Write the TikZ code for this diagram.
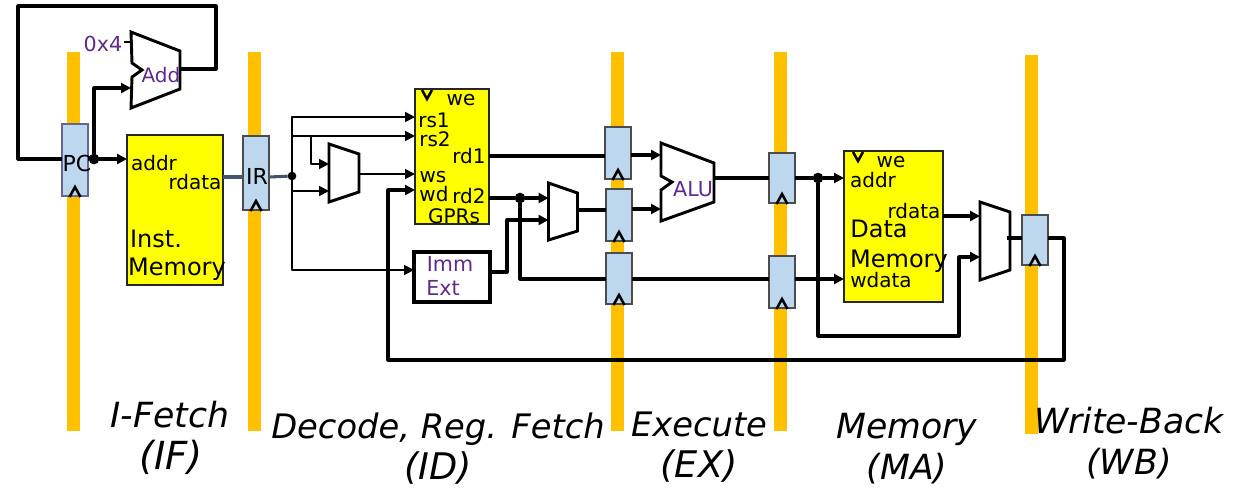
\documentclass[tikz,border=0pt]{standalone}
\usepackage{fontspec}
\setmainfont{DejaVu Sans}
\usetikzlibrary{arrows.meta,calc}
\definecolor{barc}{RGB}{255,192,0}
\definecolor{regc}{RGB}{189,215,238}
\definecolor{purp}{RGB}{95,42,140}
\definecolor{irw}{RGB}{68,84,106}
\definecolor{memy}{RGB}{255,255,0}
\tikzset{
  pipebar/.style={fill=barc,draw=none,inner sep=0pt,outer sep=0pt,minimum width=9.75pt},
  reg/.style={fill=regc,draw=black!70,line width=1.1pt,inner sep=0pt,outer sep=0pt,minimum width=19.5pt},
  memblock/.style={fill=memy,draw=black!85,line width=2.1pt,inner sep=0pt,outer sep=0pt},
  immblock/.style={fill=white,draw=black,line width=2.3pt,inner sep=0pt,outer sep=0pt},
  muxbox/.style={inner sep=0pt,outer sep=0pt,draw=none},
  muxline/.style={draw=black,fill=white,line width=2.2pt,line join=miter},
  heavywire/.style={draw=black,line width=2.3pt,line join=round},
  lightwire/.style={draw=black,line width=1.4pt,line join=round},
  tipped/.style={-{Triangle[length=7.5pt,width=7.5pt]}},
  dot/.style={circle,fill=black,inner sep=0pt,outer sep=0pt,minimum size=#1},
  dot/.default=8pt,
  chev/.style={draw=black,line width=1.9pt,line join=miter},
  port/.style={anchor=base,inner sep=0pt,outer sep=0pt,font=\fontsize{15}{15}\selectfont,text=black},
  big/.style={anchor=base,inner sep=0pt,outer sep=0pt,font=\fontsize{18}{18}\selectfont,text=black},
  ppl/.style={anchor=base,inner sep=0pt,outer sep=0pt,font=\fontsize{15.5}{15}\selectfont,text=purp},
  stage/.style={anchor=base,inner sep=0pt,outer sep=0pt,font=\fontsize{26}{26}\selectfont\itshape,text=black},
  stagesm/.style={stage,font=\fontsize{25.3}{26}\selectfont\itshape},
  stagelg/.style={stage,font=\fontsize{27.5}{28}\selectfont\itshape},
}
\newcommand{\clkmark}[1]{\draw[chev] ($(#1.south)+(-5.5,1)$) -- ++(5.5,-10) -- ++(5.5,10);}
\begin{document}
\begin{tikzpicture}[x=0.75pt,y=-0.75pt]
\useasboundingbox (0,0) rectangle (1256,487);
% pipeline bars
\node[pipebar,minimum height=284.25pt] (barA) at (73.5,241.5) {};
\node[pipebar,minimum height=284.25pt] (barB) at (254.5,241.5) {};
\node[pipebar,minimum height=284.25pt] (barC) at (617.5,241.5) {};
\node[pipebar,minimum height=284.25pt] (barD) at (780.5,241.5) {};
\node[pipebar,minimum height=284.25pt] (barE) at (1031.5,244.5) {};
% boxes
\node[reg,draw=blue!30!black!60,minimum height=54pt] (pc) at (75,160) {};
\node[reg,minimum height=55.5pt] (ir) at (256,173) {};
\node[reg,minimum height=39pt] (exa) at (618,153) {};
\node[reg,minimum height=39pt] (exb) at (619,215) {};
\node[reg,minimum height=38.25pt] (exc) at (619,278.5) {};
\node[reg,minimum height=37.5pt] (maa) at (782,178) {};
\node[reg,minimum height=39pt] (mab) at (782,282) {};
\node[reg,minimum height=37.5pt] (wb) at (1035,240) {};
\node[memblock,minimum width=72pt,minimum height=112.5pt] (imem) at (175,210) {};
\node[memblock,minimum width=55.5pt,minimum height=101.25pt] (gpr) at (452,156.5) {};
\node[memblock,minimum width=74.25pt,minimum height=113.25pt] (dmem) at (893.5,226.5) {};
\node[immblock,minimum width=57pt,minimum height=37.5pt] (imm) at (452,277) {};
% mux / adder frames
\node[muxbox,minimum width=36.75pt,minimum height=57pt] (add) at (155.5,70) {};
\node[muxbox,minimum width=22.5pt,minimum height=43.5pt] (mxa) at (344,173) {};
\node[muxbox,minimum width=21.75pt,minimum height=42.75pt] (mxb) at (563,211.5) {};
\node[muxbox,minimum width=39.75pt,minimum height=58.5pt] (alu) at (687.5,182) {};
\node[muxbox,minimum width=22.5pt,minimum height=58.5pt] (mxc) at (995,241) {};
\node[dot] (jpc) at (94,159) {};
\node[dot=6.5pt] (jir) at (292,176) {};
\node[dot] (jrd) at (520,198) {};
\node[dot] (jalu) at (818,178) {};
% wires
\draw[heavywire] (pc.west |- 0,159) -- (18,159) -- (18,6) -- (216,6) -- (216,69) -- (add.east |- 0,69);
\draw[lightwire] (124,42) -- (add.west |- 0,42);
\draw[heavywire,tipped] (jpc) -- (94,88) -- (add.west |- 0,88);
\draw[heavywire] (pc.east |- 0,159) -- (jpc);
\draw[heavywire,tipped] (jpc) -- (imem.west |- 0,159);
\draw[irw,line width=2.3pt] (imem.east |- 0,177) -- (ir.west |- 0,177);
\draw[irw,line width=2.3pt] (ir.east |- 0,177) -- (jir);
\draw[lightwire,tipped] (jir) -- (292,117) -- (gpr.west |- 0,117);
\draw[lightwire,tipped] (292,136) -- (gpr.west |- 0,136);
\draw[lightwire,tipped] (311,136) -- (311,164) -- (mxa.west |- 0,164);
\draw[lightwire,tipped] (292,191) -- (mxa.west |- 0,191);
\draw[lightwire,tipped] (jir) -- (292,270) -- (imm.west |- 0,270);
\draw[lightwire,tipped] (mxa.east |- 0,174) -- (gpr.west |- 0,174);
\draw[heavywire,tipped] (wb.east |- 0,238) -- (1064,238) -- (1064,360) -- (388,360) -- (388,190) -- (gpr.west |- 0,190);
\draw[heavywire] (gpr.east |- 0,156) -- (exa.west |- 0,156);
\draw[heavywire] (gpr.east |- 0,198) -- (jrd);
\draw[heavywire,tipped] (jrd) -- (mxb.west |- 0,198);
\draw[heavywire,tipped] (imm.east |- 0,272) -- (507,272) -- (507,220) -- (mxb.west |- 0,220);
\draw[heavywire] (jrd) -- (520,279) -- (exc.west |- 0,279);
\draw[heavywire] (mxb.east |- 0,210) -- (exb.west |- 0,210);
\draw[heavywire,tipped] (exa.east |- 0,155) -- (alu.west |- 0,155);
\draw[heavywire,tipped] (exb.east |- 0,209) -- (alu.west |- 0,209);
\draw[heavywire] (exc.east |- 0,279) -- (mab.west |- 0,279);
\draw[heavywire] (alu.east |- 0,178) -- (maa.west |- 0,178);
\draw[heavywire] (maa.east |- 0,178) -- (jalu);
\draw[heavywire,tipped] (jalu) -- (dmem.west |- 0,178);
\draw[heavywire,tipped] (mab.east |- 0,279) -- (dmem.west |- 0,279);
\draw[heavywire,tipped] (jalu) -- (818,336) -- (959,336) -- (959,257) -- (mxc.west |- 0,257);
\draw[heavywire,tipped] (dmem.east |- 0,216) -- (mxc.west |- 0,216);
% mux shapes
\draw[muxline] (add.north west) -- ($(add.north east)+(0,19)$) -- ($(add.south east)+(0,-19)$) -- (add.south west) -- (132,77) -- (142,70) -- (132,63) -- cycle;
\draw[muxline] (mxa.north west) -- ($(mxa.north east)+(0,10)$) -- ($(mxa.south east)+(0,-10)$) -- (mxa.south west) -- cycle;
\draw[muxline] (mxb.north west) -- ($(mxb.north east)+(0,10)$) -- ($(mxb.south east)+(0,-9)$) -- (mxb.south west) -- cycle;
\draw[muxline] (alu.north west) -- ($(alu.north east)+(0,20)$) -- ($(alu.south east)+(0,-19)$) -- (alu.south west) -- (661,190) -- (672,182) -- (661,176) -- cycle;
\draw[muxline] (mxc.north west) -- ($(mxc.north east)+(0,10)$) -- ($(mxc.south east)+(0,-10)$) -- (mxc.south west) -- cycle;
\draw[heavywire] (1007,238) -- (wb.west |- 0,238);
% clocks
\clkmark{pc}\clkmark{ir}\clkmark{exa}\clkmark{exb}\clkmark{exc}\clkmark{maa}\clkmark{mab}\clkmark{wb}
\draw[chev] (422,90) -- (427,99) -- (432,90);
\draw[chev] (853,152) -- (858,161) -- (863,152);
% labels
\node[port,font=\fontsize{16.5}{15}\selectfont] (lpc) at (77,171) {PC};
\node[port,font=\fontsize{16.5}{15}\selectfont] (lir) at (257,184) {IR};
\node[ppl] (l0x) at (103,51) {0x4};
\node[ppl,font=\fontsize{15}{15}\selectfont] (ladd) at (161,82) {Add};
\node[port] (l1) at (154,170) {addr};
\node[port] (l2) at (195,189) {rdata};
\node[big] (l3) at (156,247) {Inst.};
\node[big] (l4) at (177,275) {Memory};
\node[port] (g1) at (461,105) {we};
\node[port] (g2) at (434,127) {rs1};
\node[port] (g3) at (435,146) {rs2};
\node[port] (g4) at (469,163) {rd1};
\node[port] (g5) at (433,182) {ws};
\node[port] (g6) at (434,201) {wd};
\node[port] (g7) at (469,203) {rd2};
\node[port] (g8) at (454,223) {GPRs};
\node[ppl] (i1) at (450,271) {Imm};
\node[ppl] (i2) at (443,295) {Ext};
\node[ppl] (lalu) at (693,196) {ALU};
\node[port] (d1) at (891,167) {we};
\node[port] (d2) at (873,187) {addr};
\node[port] (d3) at (914,218) {rdata};
\node[big] (d4) at (879,237) {Data};
\node[big] (d5) at (899,267) {Memory};
\node[port] (d6) at (881,287) {wdata};
\node[stage] (s1) at (170,427) {I-Fetch};
\node[stagelg,font=\fontsize{29}{29}\selectfont\itshape] (s2) at (171,469) {(IF)};
\node[stagesm] (s3) at (438,438) {Decode, Reg. Fetch};
\node[stagelg] (s4) at (438,479) {(ID)};
\node[stagesm] (s5) at (699,436) {Execute};
\node[stagelg] (s6) at (699,477) {(EX)};
\node[stage] (s7) at (907,438) {Memory};
\node[stage] (s8) at (907,479) {(MA)};
\node[stage] (s9) at (1129,433) {Write-Back};
\node[stage] (s10) at (1129,474) {(WB)};
\end{tikzpicture}
\end{document}
